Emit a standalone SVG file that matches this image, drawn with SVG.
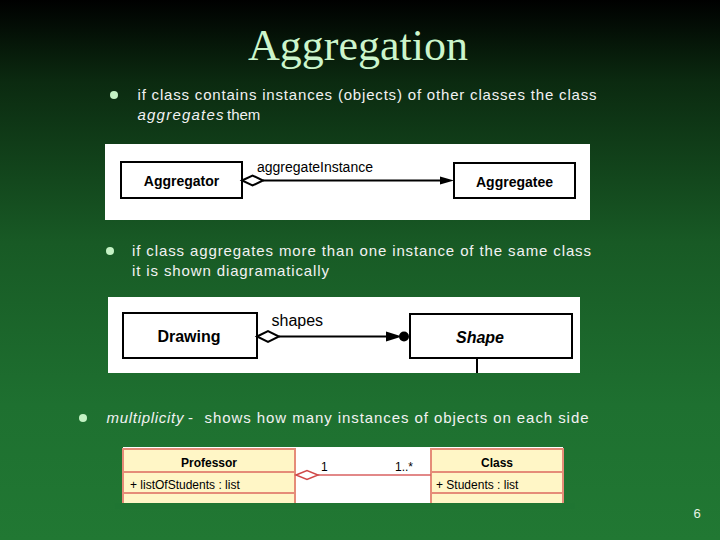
<svg xmlns="http://www.w3.org/2000/svg" width="720" height="540" viewBox="0 0 720 540">
<defs>
<linearGradient id="bg" x1="0" y1="0" x2="0" y2="1">
<stop offset="0" stop-color="#000000"/>
<stop offset="0.15" stop-color="#0b2a10"/>
<stop offset="0.45" stop-color="#185a25"/>
<stop offset="0.75" stop-color="#1e7030"/>
<stop offset="1" stop-color="#217833"/>
</linearGradient>
<style>
.body{font-family:"Liberation Sans",Arial,sans-serif;font-size:15px;fill:#f2f2f2}
.it{font-style:italic}
.bul{fill:#c4f2c4}
.box{fill:#ffffff;stroke:#000;stroke-width:2}
.lbl{font-family:"Liberation Sans",Arial,sans-serif;font-weight:bold;fill:#000}
.cls{fill:#fff6c6;stroke:#e58c78;stroke-width:2}
.sep{stroke:#e58c78;stroke-width:2}
.small{font-family:"Liberation Sans",Arial,sans-serif;font-size:12px;fill:#000}
</style>
</defs>
<rect width="720" height="540" fill="url(#bg)"/>
<text x="358" y="60" text-anchor="middle" font-family="Liberation Serif,Times New Roman,serif" font-size="44" fill="#ccf5cc">Aggregation</text>

<circle class="bul" cx="114" cy="95" r="4"/>
<text class="body" x="137.5" y="100" textLength="459" lengthAdjust="spacing">if class contains instances (objects) of other classes the class</text>
<text class="body" x="137.5" y="120"><tspan class="it" textLength="86" lengthAdjust="spacing">aggregates</tspan><tspan x="227">them</tspan></text>

<circle class="bul" cx="110" cy="251" r="4"/>
<text class="body" x="132" y="256" textLength="459" lengthAdjust="spacing">if class aggregates more than one instance of the same class</text>
<text class="body" x="132" y="276" textLength="197" lengthAdjust="spacing">it is shown diagramatically</text>

<circle class="bul" cx="83" cy="418" r="4"/>
<text class="body it" x="106.5" y="423" textLength="77" lengthAdjust="spacing">multiplicity</text>
<text class="body" x="188" y="423">-</text>
<text class="body" x="204.5" y="423" textLength="384" lengthAdjust="spacing">shows how many instances of objects on each side</text>

<text x="697" y="518" text-anchor="middle" font-family="Liberation Sans,Arial,sans-serif" font-size="13" fill="#e6f4e6">6</text>

<!-- Diagram 1 -->
<rect x="105" y="144" width="485" height="76" fill="#ffffff"/>
<g id="aggregator">
<rect class="box" x="121" y="162" width="121" height="36"/>
<text class="lbl" x="181.5" y="185.5" font-size="14" text-anchor="middle">Aggregator</text>
</g>
<g id="aggregatee">
<rect class="box" x="454" y="163" width="121" height="35"/>
<text class="lbl" x="514.5" y="186.5" font-size="14" text-anchor="middle">Aggregatee</text>
</g>

<!-- Diagram 2 -->
<rect x="108" y="297" width="472" height="76" fill="#ffffff"/>
<g id="drawing">
<rect class="box" x="123" y="313" width="134" height="45"/>
<text class="lbl" x="189" y="342" font-size="16" text-anchor="middle">Drawing</text>
</g>
<g id="shape">
<rect class="box" x="410" y="314" width="162" height="44"/>
<text class="lbl" x="480" y="343" font-size="16" font-style="italic" text-anchor="middle">Shape</text>
</g>

<!-- Diagram 3 -->
<rect x="123" y="447" width="440" height="56" fill="#ffffff"/>
<g id="professor">
<rect class="cls" x="123" y="449" width="172" height="55"/>
<line class="sep" x1="123" y1="472" x2="295" y2="472"/>
<line class="sep" x1="123" y1="493" x2="295" y2="493"/>
<text class="lbl" x="209" y="467" font-size="12" text-anchor="middle">Professor</text>
<text class="small" x="130" y="489">+ listOfStudents : list</text>
</g>
<g id="class">
<rect class="cls" x="431" y="449" width="132" height="55"/>
<line class="sep" x1="431" y1="472" x2="563" y2="472"/>
<line class="sep" x1="431" y1="493" x2="563" y2="493"/>
<text class="lbl" x="497" y="467" font-size="12" text-anchor="middle">Class</text>
<text class="small" x="436" y="489">+ Students : list</text>
</g>
<rect x="115" y="503" width="460" height="6" fill="#1f7532"/>

<g id="connectors">
<line x1="263" y1="180.5" x2="441" y2="180.5" stroke="#000" stroke-width="2"/>
<polygon points="242,180.5 252.5,175.5 263,180.5 252.5,185.5" fill="#fff" stroke="#000" stroke-width="2"/>
<polygon points="440,176.5 454,180.5 440,184.5" fill="#000"/>
<text x="257" y="172" font-family="Liberation Sans,Arial,sans-serif" font-size="14" fill="#000">aggregateInstance</text>

<line x1="279" y1="336.5" x2="387" y2="336.5" stroke="#000" stroke-width="2"/>
<polygon points="257,336.5 268,331 279,336.5 268,342" fill="#fff" stroke="#000" stroke-width="2"/>
<polygon points="386,331.5 402,336.5 386,341.5" fill="#000"/>
<circle cx="404" cy="336.5" r="5" fill="#000"/>
<line x1="477" y1="358" x2="477" y2="373" stroke="#000" stroke-width="2"/>
<text x="271.5" y="326" font-family="Liberation Sans,Arial,sans-serif" font-size="16" fill="#000">shapes</text>

<line x1="318" y1="475" x2="431" y2="475" stroke="#d86060" stroke-width="1.5"/>
<polygon points="296,475 307,470.5 318,475 307,479.5" fill="#fff" stroke="#d04848" stroke-width="1.5"/>
<text x="321" y="471" font-family="Liberation Sans,Arial,sans-serif" font-size="12" fill="#000">1</text>
<text x="395" y="471" font-family="Liberation Sans,Arial,sans-serif" font-size="12" fill="#000">1..*</text>
</g>
</svg>
